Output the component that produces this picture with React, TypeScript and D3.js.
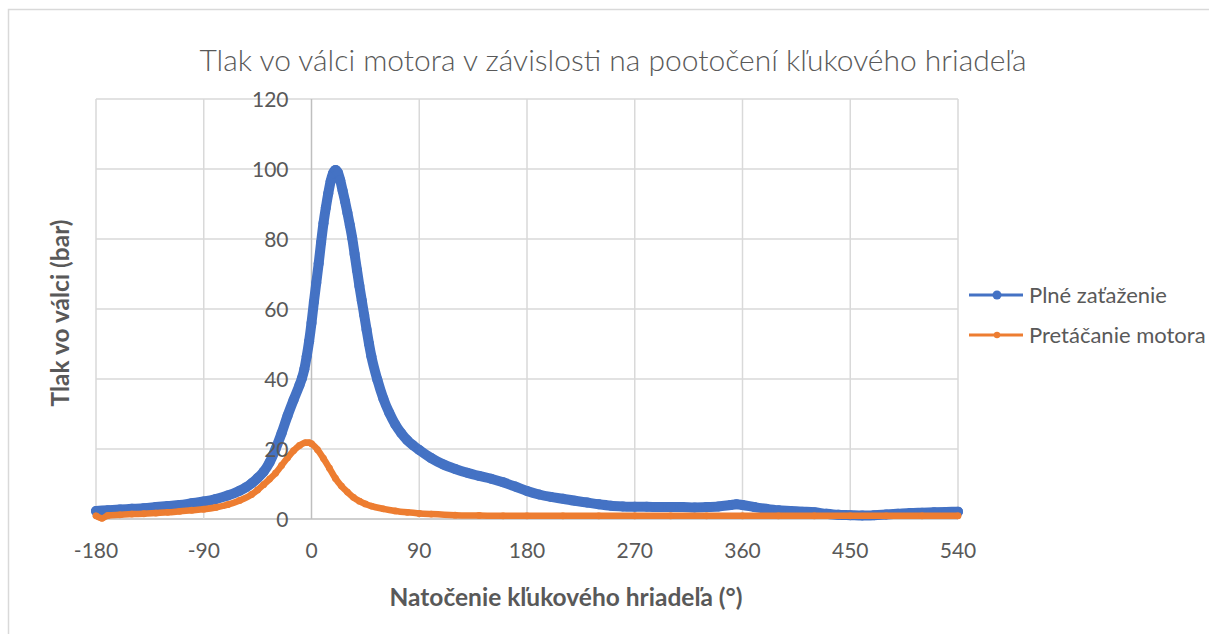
import React, { useEffect, useRef } from 'react';
import * as d3 from 'd3';

// Plné zaťaženie (full load) - angle in degrees, pressure in bar
const fullAngles = [
  -180, -170, -160, -150, -140, -130, -120, -110, -100, -90, -80, -70, -60, -55, -50, -45, -40, -35,
  -30, -25, -20, -15, -10, -8, -6, -4, -2, 0, 2, 4, 6, 8, 10, 12, 14, 16, 18, 20, 22, 24, 26, 28, 30,
  32, 34, 36, 38, 40, 42, 44, 46, 48, 50, 55, 60, 65, 70, 75, 80, 85, 90, 100, 110, 120, 130, 140, 150,
  160, 170, 180, 190, 200, 210, 220, 230, 240, 250, 260, 270, 280, 290, 300, 310, 320, 330, 340, 350,
  355, 360, 370, 380, 390, 400, 410, 420, 430, 440, 450, 460, 470, 480, 490, 500, 510, 520, 530, 540,
];
const fullValues = [
  2.3, 2.5, 2.7, 2.9, 3.1, 3.4, 3.7, 4.0, 4.5, 5.0, 5.7, 6.7, 8.1, 9.0, 10.2, 11.7, 13.5, 16.2,
  20.0, 24.5, 29.5, 34.0, 38.3, 40.2, 42.8, 46.5, 50.8, 56.0, 62.0, 67.5, 73.0, 79.0, 84.5, 89.0, 93.0, 96.5, 98.8, 99.7, 99.0, 96.8, 93.8, 90.8, 87.5,
  84.0, 80.3, 75.7, 71.1, 66.6, 62.4, 58.3, 54.1, 50.1, 46.5, 39.8, 34.4, 30.3, 27.0, 24.5, 22.5, 21.0, 19.7, 17.4, 15.6, 14.3, 13.2, 12.3, 11.5,
  10.5, 9.3, 8.0, 7.0, 6.3, 5.8, 5.2, 4.7, 4.2, 3.8, 3.6, 3.5, 3.5, 3.4, 3.4, 3.4, 3.3, 3.4, 3.6, 4.0,
  4.2, 4.0, 3.4, 2.9, 2.5, 2.3, 2.1, 1.9, 1.5, 1.2, 1.1, 1.0, 1.1, 1.3, 1.5, 1.7, 1.8, 1.9, 2.0, 2.1,
];

// Pretáčanie motora (motoring)
const motorAngles = [
  -180, -175, -170, -160, -150, -140, -130, -120, -110, -100, -90, -80, -70, -60, -50, -45, -40, -35,
  -30, -25, -20, -15, -10, -5, -2, 0, 5, 10, 15, 20, 25, 30, 35, 40, 45, 50, 60, 70, 80, 90, 100, 120,
  140, 160, 180, 210, 240, 270, 300, 330, 360, 390, 420, 450, 480, 510, 540,
];
const motorValues = [
  0.9, 0.2, 1.0, 1.2, 1.4, 1.5, 1.7, 1.9, 2.2, 2.5, 2.8, 3.3, 4.1, 5.3, 7.0, 8.3, 9.8, 11.4,
  13.1, 15.3, 17.5, 19.5, 21.0, 21.8, 21.8, 21.5, 19.8, 17.3, 14.5, 11.6, 9.4, 7.7, 6.2, 5.1, 4.3, 3.7, 2.9, 2.3, 1.9, 1.6, 1.4, 1.1,
  1.0, 0.9, 0.9, 0.9, 0.9, 0.9, 0.9, 0.9, 0.9, 0.9, 0.9, 0.9, 0.9, 0.9, 0.9,
];

const xTicks = [-180, -90, 0, 90, 180, 270, 360, 450, 540];
const yTicks = [0, 20, 40, 60, 80, 100, 120];

const chartTitle = 'Tlak vo válci motora v závislosti na pootočení kľukového hriadeľa';
const xTitle = 'Natočenie kľukového hriadeľa (°)';
const yTitle = 'Tlak vo válci (bar)';
const seriesNames = ['Plné zaťaženie', 'Pretáčanie motora'];

const width = 1209;
const height = 634;
const font = 'Lato, "Open Sans", sans-serif';
const textColor = '#595959';

const App: React.FC = () => {
  const svgRef = useRef<SVGSVGElement>(null);

  useEffect(() => {
    document.body.style.margin = '0';
    if (!svgRef.current) return;
    const svg = d3.select(svgRef.current);
    svg.selectAll('*').remove();

    const x = d3.scaleLinear().domain([-180, 540]).range([96, 958]);
    const y = d3.scaleLinear().domain([0, 120]).range([519, 99]);

    svg.append('rect').attr('width', width).attr('height', height).attr('fill', '#fff');

    // chart border (cropped on right/bottom)
    svg.append('path')
      .attr('d', `M8.5,${height} V9.5 H${width}`)
      .attr('fill', 'none').attr('stroke', '#d9d9d9').attr('stroke-width', 1.5);

    // grid
    const grid = svg.append('g');
    yTicks.forEach(t => {
      grid.append('line')
        .attr('x1', x(-180)).attr('x2', x(540)).attr('y1', y(t)).attr('y2', y(t))
        .attr('stroke', t === 0 ? '#bfbfbf' : '#d9d9d9').attr('stroke-width', 1.5);
    });
    xTicks.forEach(t => {
      grid.append('line')
        .attr('x1', x(t)).attr('x2', x(t)).attr('y1', y(0)).attr('y2', y(120))
        .attr('stroke', t === 0 ? '#bfbfbf' : '#d9d9d9').attr('stroke-width', 1.5);
    });

    const series = [
      { name: seriesNames[0], xs: fullAngles, ys: fullValues, color: '#4472C4', lw: 10, r: 5 },
      { name: seriesNames[1], xs: motorAngles, ys: motorValues, color: '#ED7D31', lw: 6.5, r: 3.4 },
    ];

    const line = d3.line().curve(d3.curveMonotoneX);

    series.forEach(s => {
      const pts = s.xs.map((a, i) => [x(a), y(s.ys[i])] as [number, number]);
      const g = svg.append('g');
      g.append('path')
        .attr('d', line(pts))
        .attr('fill', 'none').attr('stroke', s.color)
        .attr('stroke-width', s.lw).attr('stroke-linejoin', 'round').attr('stroke-linecap', 'round');
      g.selectAll('circle').data(pts).enter().append('circle')
        .attr('cx', d => d[0]).attr('cy', d => d[1]).attr('r', s.r).attr('fill', s.color);
    });

    // tick labels
    const labels = svg.append('g').attr('font-family', font).attr('fill', textColor).attr('font-size', 21);
    yTicks.forEach(t => {
      labels.append('text')
        .attr('x', x(0) - 23).attr('y', y(t) + 7.5)
        .attr('text-anchor', 'end').text(t);
    });
    xTicks.forEach(t => {
      labels.append('text')
        .attr('x', x(t)).attr('y', 558)
        .attr('text-anchor', 'middle').text(t);
    });

    // titles
    svg.append('text')
      .attr('x', 613).attr('y', 71)
      .attr('text-anchor', 'middle').attr('font-family', font).attr('font-weight', 300)
      .attr('font-size', 30).attr('fill', textColor).text(chartTitle);

    svg.append('text')
      .attr('x', 566).attr('y', 606)
      .attr('text-anchor', 'middle').attr('font-family', font).attr('font-weight', 700)
      .attr('font-size', 24.5).attr('fill', textColor).text(xTitle);

    svg.append('text')
      .attr('transform', `translate(69,313) rotate(-90)`)
      .attr('text-anchor', 'middle').attr('font-family', font).attr('font-weight', 700)
      .attr('font-size', 24.5).attr('fill', textColor).text(yTitle);

    // legend
    const legend = svg.append('g').attr('font-family', font).attr('font-size', 22).attr('fill', textColor);
    series.forEach((s, i) => {
      const ly = 295 + i * 40;
      legend.append('line')
        .attr('x1', 969).attr('x2', 1023).attr('y1', ly).attr('y2', ly)
        .attr('stroke', s.color).attr('stroke-width', 3);
      legend.append('circle').attr('cx', 997).attr('cy', ly).attr('r', i === 0 ? 4.5 : 3.2).attr('fill', s.color);
      legend.append('text').attr('x', 1029).attr('y', ly + 8).text(s.name);
    });
  }, []);

  return (
    <div style={{ position: 'absolute', left: 0, top: 0 }}>
      <svg ref={svgRef} width={width} height={height} style={{ display: 'block' }} />
    </div>
  );
};

export default App;
